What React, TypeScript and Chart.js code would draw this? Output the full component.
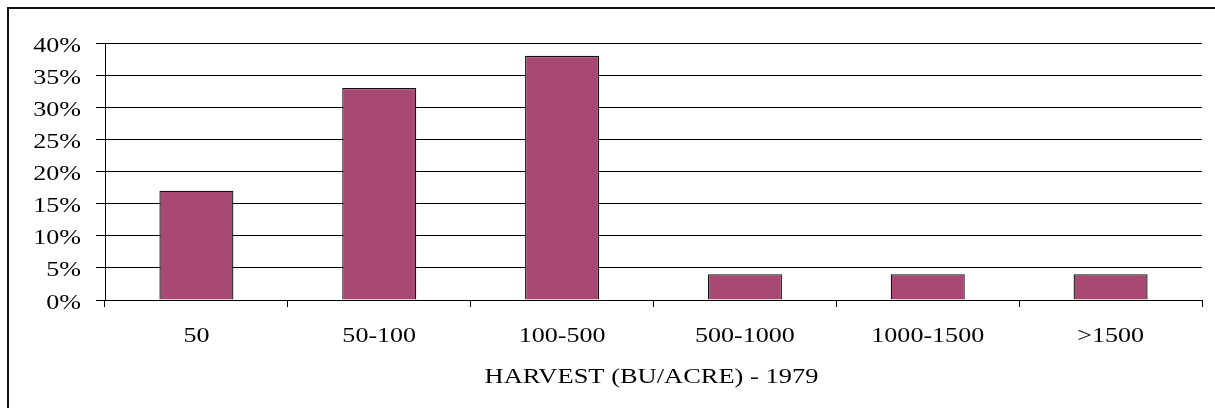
import React, { useEffect, useRef } from "react";
import { Chart, registerables } from "chart.js";

Chart.register(...registerables);

const categories: string[] = ["50", "50-100", "100-500", "500-1000", "1000-1500", ">1500"];
const percentages: number[] = [17, 33, 38, 4, 4, 4];
const yMin = 0;
const yMax = 40;
const yStep = 5;
const xTitle = "HARVEST (BU/ACRE) - 1979";

const FONT = '21px "Liberation Serif", "Times New Roman", serif';
const SX = 1.24;

function drawStretched(ctx: CanvasRenderingContext2D, text: string, x: number, y: number, align: CanvasTextAlign, sx: number) {
  ctx.save();
  ctx.translate(x, y);
  ctx.scale(sx, 1);
  ctx.textAlign = align;
  ctx.fillText(text, 0, 0);
  ctx.restore();
}

const stretchedText = {
  id: "stretchedText",
  afterDraw(chart: any) {
    const ctx: CanvasRenderingContext2D = chart.ctx;
    const xs = chart.scales.x;
    const ys = chart.scales.y;
    ctx.save();
    ctx.fillStyle = "#000";
    ctx.font = FONT;
    ctx.textBaseline = "alphabetic";
    ys.ticks.forEach((t: any, i: number) => {
      const y = ys.getPixelForTick(i);
      drawStretched(ctx, `${t.value}%`, ys.right - 24, y + 8.5, "right", SX);
    });
    categories.forEach((c, i) => {
      const x = xs.getPixelForTick(i);
      drawStretched(ctx, c, x, xs.top + 42, "center", SX);
    });
    const cx = (chart.chartArea.left + chart.chartArea.right) / 2;
    drawStretched(ctx, xTitle, cx - 2, xs.top + 82.5, "center", 1.26);
    ctx.restore();
  },
};

export default function App() {
  const ref = useRef<HTMLCanvasElement | null>(null);
  useEffect(() => {
    if (!ref.current) return;
    const chart = new Chart(ref.current, {
      type: "bar",
      data: {
        labels: categories,
        datasets: [
          {
            data: percentages,
            backgroundColor: "#A84973",
            borderColor: "#111",
            borderWidth: 1.3,
            categoryPercentage: 1,
            barPercentage: 0.405,
          },
        ],
      },
      options: {
        responsive: false,
        animation: false,
        layout: { padding: { left: 0, top: 43, right: 13, bottom: 0 } },
        plugins: { legend: { display: false }, tooltip: { enabled: false }, title: { display: false } },
        scales: {
          x: {
            offset: true,
            ticks: { display: false },
            grid: { drawOnChartArea: false, drawTicks: true, tickLength: 7, color: "#000", offset: true },
            border: { display: true, color: "#000" },
            afterFit: (scale: any) => {
              scale.height = 108;
            },
          },
          y: {
            min: yMin,
            max: yMax,
            ticks: { display: false, stepSize: yStep },
            grid: { color: "#000", tickLength: 9, drawTicks: true },
            border: { display: true, color: "#000" },
            afterFit: (scale: any) => {
              scale.width = 105;
            },
          },
        },
      },
      plugins: [stretchedText],
    });
    return () => chart.destroy();
  }, []);

  return (
    <div style={{ position: "fixed", left: 0, top: 0, width: 1215, height: 408, background: "#fff", overflow: "hidden" }}>
      <div
        style={{
          position: "absolute",
          left: 7,
          top: 7,
          width: 1400,
          height: 600,
          borderLeft: "2px solid #111",
          borderTop: "2px solid #111",
        }}
      />
      <canvas ref={ref} width={1215} height={408} style={{ position: "absolute", left: 0, top: 0, display: "block" }} />
    </div>
  );
}
